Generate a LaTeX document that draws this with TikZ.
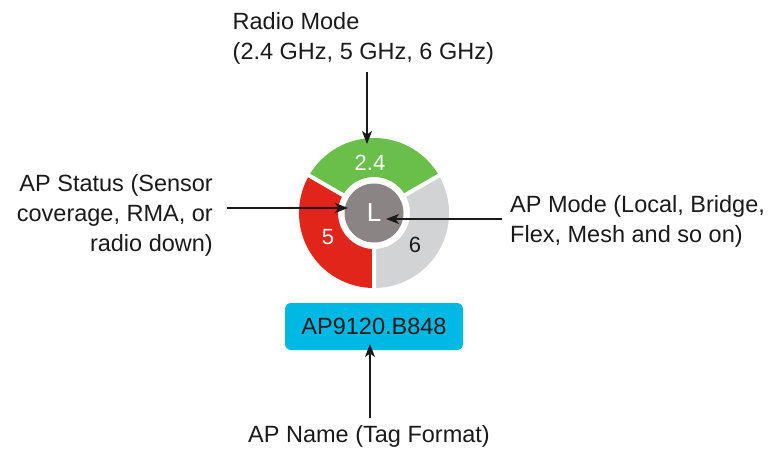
\documentclass[tikz,border=0pt]{standalone}
\usepackage{fontspec}
\setmainfont{Liberation Sans}
\usetikzlibrary{arrows.meta}
\definecolor{ringgreen}{HTML}{6ABF4B}
\definecolor{ringred}{HTML}{E1251B}
\definecolor{ringgray}{HTML}{D1D3D4}
\definecolor{centergray}{HTML}{8A8584}
\definecolor{boxcyan}{HTML}{00B8E4}
\definecolor{inkdark}{HTML}{1A1A1A}
\begin{document}
\begin{tikzpicture}[x=1pt,y=-1pt,
  lbl/.style={font=\fontsize{23.5}{30}\selectfont, inner sep=0pt, text=inkdark},
  seglbl/.style={font=\fontsize{22}{26}\selectfont, inner sep=0pt},
  arr/.style={-{Stealth[length=13pt,width=10pt,inset=3.5pt]}, line width=1.3pt, draw=inkdark},
  gap/.style={white, line width=4pt}]
\useasboundingbox (0,0) rectangle (769,448);
% ring
\begin{scope}[shift={(374,213)}, y=1pt]
  \fill[ringgreen] (30:75) arc[start angle=30,end angle=150,radius=75] -- (150:36) arc[start angle=150,end angle=30,radius=36] -- cycle;
  \fill[ringred] (150:75) arc[start angle=150,end angle=270,radius=75] -- (270:36) arc[start angle=270,end angle=150,radius=36] -- cycle;
  \fill[ringgray] (270:75) arc[start angle=270,end angle=390,radius=75] -- (30:36) arc[start angle=390,end angle=270,radius=36] -- cycle;
  \draw[gap] (30:30) -- (30:80) (150:30) -- (150:80) (270:30) -- (270:80);
  \node[circle, fill=centergray, minimum size=59pt, inner sep=0pt, text=white, font=\fontsize{26}{30}\selectfont] (ctr) at (0,0) {L};
  \node[seglbl, text=white] (seg24) at (-4,50) {2.4};
  \node[seglbl, text=white] (seg5) at (-46,-24) {5};
  \node[seglbl, text=inkdark] (seg6) at (41,-32) {6};
\end{scope}
% name box
\node[fill=boxcyan, rounded corners=6pt, minimum width=178pt, minimum height=47pt, inner sep=0pt, font=\fontsize{23.5}{28}\selectfont, text=inkdark] (tag) at (374,326.5) {AP9120.B848};
% labels (base anchor = baseline of last line)
\node[lbl, anchor=base west, align=left] (radio) at (232.5,59.5) {Radio Mode\\(2.4 GHz, 5 GHz, 6 GHz)};
\node[lbl, anchor=base east, align=right] (status) at (213,251.7) {AP Status (Sensor\\coverage, RMA, or\\radio down)};
\node[lbl, anchor=base west, align=left] (mode) at (510,242) {AP Mode (Local, Bridge,\\Flex, Mesh and so on)};
\node[lbl, anchor=base west] (apname) at (248,442.5) {AP Name (Tag Format)};
% arrows
\coordinate (a1s) at (367,72);
\coordinate (a1e) at (367,144);
\coordinate (a2s) at (227,208);
\coordinate (a2e) at (348,208);
\coordinate (a3s) at (502,219);
\coordinate (a3e) at (386,219);
\coordinate (a4s) at (370,418);
\coordinate (a4e) at (370,344);
\draw[arr] (a1s) -- (a1e);
\draw[arr] (a2s) -- (a2e);
\draw[arr] (a3s) -- (a3e);
\draw[arr] (a4s) -- (a4e);
\end{tikzpicture}
\end{document}
